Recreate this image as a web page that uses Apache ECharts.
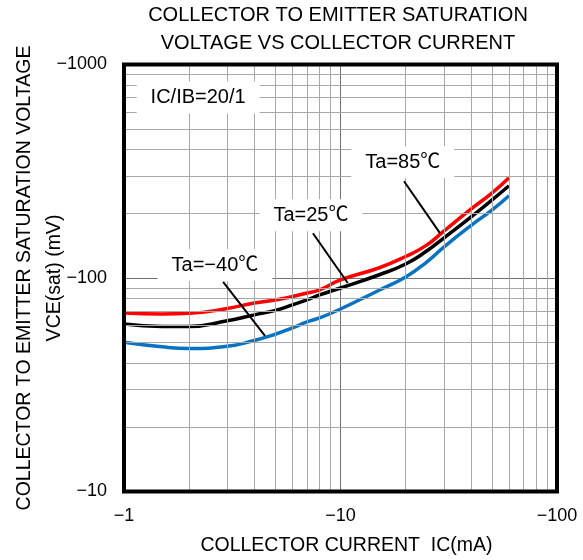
<!DOCTYPE html>
<html><head><meta charset="utf-8">
<script src="https://cdn.jsdelivr.net/npm/echarts@6/dist/echarts.min.js"></script>
<style>html,body{margin:0;padding:0;background:#fff}#c{width:583px;height:560px}</style>
</head><body><div id="c"></div>
<script>
// Collector current |IC| (mA)
const ic = [1, 1.5, 2, 3, 4, 5, 6, 7, 8, 10, 15, 20, 25, 30, 40, 50, 60];
// |VCE(sat)| (mV)
const vce85 = [68.6, 67.9, 68.3, 72.0, 76.4, 78.9, 81.9, 85.1, 87.9, 97.9, 111.4, 126.1, 142.6, 165.8, 210.1, 249.6, 294.8];
const vce25 = [60.9, 59.3, 59.3, 63.0, 67.2, 70.5, 74.8, 78.9, 83.3, 89.8, 103.3, 116.3, 133.7, 153.8, 192.8, 231.5, 270.5];
const vceM40 = [50.0, 47.6, 46.8, 47.9, 51.0, 54.5, 58.4, 62.3, 65.0, 71.6, 87.4, 101.1, 118.8, 139.6, 176.0, 207.9, 243.0];
// minor grid values
const xMinor = [2, 3, 4, 5, 6, 7, 8, 9, 20, 30, 40, 50, 60, 70, 80, 90];
const yMinor = [20, 30, 40, 50, 60, 70, 80, 90, 200, 300, 400, 500, 600, 700, 800, 900];
// annotations (data coordinates)
const noteTexts = ['IC/IB=20/1', 'Ta=25℃', 'Ta=−40℃', 'Ta=85℃'];
const noteAt = [[2.2, 700], [7.3, 197], [2.63, 115], [19.4, 348]];
const leaderFrom = [[7.46, 162], [2.87, 95.8], [19.65, 284]];
const leaderTo = [[10.8, 94.8], [4.48, 53.6], [28.8, 162.3]];

const FONT = '"Liberation Sans", Arial, "Noto Sans CJK JP", sans-serif';
const neg = v => '−' + Math.round(v);
const pairs = arr => ic.map((x, i) => [x, arr[i]]);

const chart = echarts.init(document.getElementById('c'), null, {renderer: 'canvas'});
chart.setOption({
  animation: false,
  backgroundColor: '#fff',
  textStyle: {fontFamily: FONT},
  title: {
    text: 'COLLECTOR TO EMITTER SATURATION\nVOLTAGE VS COLLECTOR CURRENT',
    left: 338, top: 1.5, padding: 0, textAlign: 'center',
    textStyle: {fontFamily: FONT, fontSize: 20, fontWeight: 'normal', color: '#000', lineHeight: 28}
  },
  grid: {left: 124, right: 26, top: 64.5, bottom: 67.5, show: true, borderColor: '#000', borderWidth: 4, z: 10, containLabel: false},
  xAxis: {
    type: 'log', logBase: 10, min: 1, max: 100,
    axisLine: {show: false}, axisTick: {show: false},
    axisLabel: {formatter: neg, fontSize: 18, color: '#000', margin: 16, fontFamily: FONT},
    splitLine: {show: true, lineStyle: {color: '#707070', width: 1}},
    name: 'COLLECTOR CURRENT  IC(mA)', nameLocation: 'middle', nameGap: 44, nameMoveOverlap: false,
    nameTextStyle: {fontSize: 19.5, color: '#000', fontFamily: FONT, padding: [0, 0, 0, 12]}
  },
  yAxis: {
    type: 'log', logBase: 10, min: 10, max: 1000,
    axisLine: {show: false}, axisTick: {show: false},
    axisLabel: {formatter: neg, fontSize: 18, color: '#000', margin: 17, fontFamily: FONT},
    splitLine: {show: true, lineStyle: {color: '#707070', width: 1}},
    name: 'COLLECTOR TO EMITTER SATURATION VOLTAGE\nVCE(sat) (mV)', nameLocation: 'middle', nameRotate: 90, nameGap: 54, nameMoveOverlap: false,
    nameTextStyle: {fontSize: 19.5, color: '#000', lineHeight: 30, align: 'center', fontFamily: FONT}
  },
  series: [
    {
      name: 'minorGrid', type: 'line', data: [[1, 10]], showSymbol: false, symbolSize: 0,
      lineStyle: {opacity: 0}, silent: true, z: 1,
      markLine: {
        silent: true, symbol: ['none', 'none'], label: {show: false}, animation: false,
        emphasis: {disabled: true},
        lineStyle: {color: '#a8a8a8', width: 1, type: 'solid'},
        data: xMinor.map(v => ({xAxis: v})).concat(yMinor.map(v => ({yAxis: v})))
      }
    },
    {name: 'Ta=-40℃', type: 'line', data: pairs(vceM40), showSymbol: false, smooth: true, z: 3,
     lineStyle: {color: '#0a72c2', width: 3.5}, itemStyle: {color: '#0a72c2'}},
    {name: 'Ta=25℃', type: 'line', data: pairs(vce25), showSymbol: false, smooth: true, z: 3,
     lineStyle: {color: '#000', width: 3.5}, itemStyle: {color: '#000'}},
    {name: 'Ta=85℃', type: 'line', data: pairs(vce85), showSymbol: false, smooth: true, z: 3,
     lineStyle: {color: '#ff0000', width: 3.5}, itemStyle: {color: '#ff0000'}},
    {
      name: 'notes', type: 'line', data: [[1, 10]], showSymbol: false, symbolSize: 0,
      lineStyle: {opacity: 0}, silent: true, z: 5,
      markLine: {
        silent: true, symbol: ['none', 'none'], label: {show: false}, animation: false,
        emphasis: {disabled: true},
        lineStyle: {color: '#000', width: 2, type: 'solid'},
        data: leaderFrom.map((p, i) => [{coord: p}, {coord: leaderTo[i]}])
      },
      markPoint: {
        silent: true, symbol: 'rect', symbolSize: 1, animation: false,
        itemStyle: {color: 'rgba(0,0,0,0)'},
        label: {show: true, position: 'inside', color: '#000', fontSize: 20, fontFamily: FONT,
                backgroundColor: '#fff', padding: [6, 14]},
        emphasis: {disabled: true},
        data: noteTexts.map((t, i) => ({coord: noteAt[i], value: t, label: {formatter: t}}))
      }
    }
  ]
});
</script></body></html>
